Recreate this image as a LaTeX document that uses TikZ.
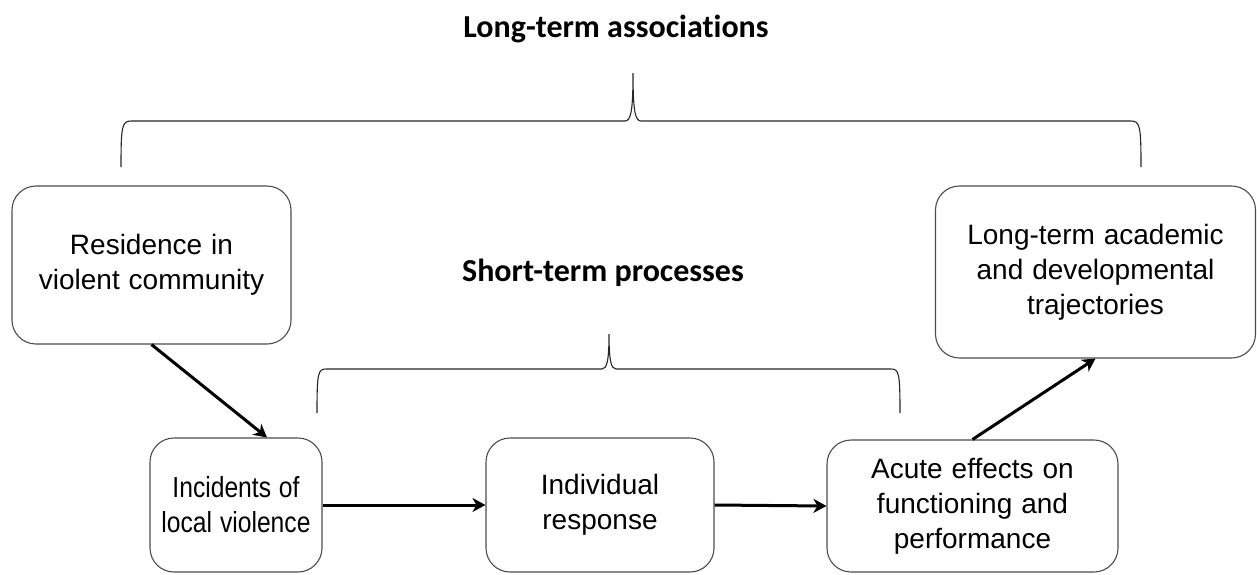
\documentclass[tikz,border=0pt]{standalone}
\usepackage{fontspec}
\setmainfont{Liberation Sans}[WordSpace=1.15]
\newfontfamily\narrowfont{Liberation Sans}[FakeStretch=0.85,WordSpace=1.15]
\newfontfamily\titlefont{Carlito}[Ligatures=NoCommon]
\usetikzlibrary{arrows.meta}
\tikzset{
  box/.style={draw=black!70, line width=1.1pt, rounded corners=24pt, align=center,
    inner sep=0pt, font=\fontsize{28}{35}\selectfont},
  flow/.style={line width=3pt, -{Stealth[length=13pt,width=14pt,inset=4pt]}},
  brace/.style={line width=1.1pt, black!85},
  title/.style={font=\titlefont\bfseries\fontsize{32}{36}\selectfont}
}
\begin{document}
\begin{tikzpicture}[x=1pt,y=-1pt]
\useasboundingbox (0,0) rectangle (1257,574);
\node[title] (lt) at (616,29) {Long-term associations};
\node[title] (st) at (603,273) {Short-term processes};

\node[box, minimum width=279pt, minimum height=158pt] (res) at (151.5,265) {Residence in\\violent community};
\node[box, minimum width=172pt, minimum height=134pt, font=\narrowfont\fontsize{29}{35}\selectfont] (inc) at (236,505) {Incidents of\\local violence};
\node[box, minimum width=228pt, minimum height=134pt] (ind) at (600,505) {Individual\\response};
\node[box, minimum width=291pt, minimum height=132pt] (acu) at (972.5,506) {Acute effects on\\functioning and\\performance};
\node[box, minimum width=320pt, minimum height=172pt] (lng) at (1095.5,272) {Long-term academic\\and developmental\\trajectories};

\draw[flow] (res.south) -- ([xshift=31pt]inc.north);
\draw[flow] (inc.east) -- (ind.west);
\draw[flow] (ind.east) -- (acu.west);
\draw[flow] (acu.north) -- (lng.south);

% long-term brace
\draw[brace] (121,167) .. controls (121,126) and (122,121) .. (131,121) -- (625,121)
  .. controls (631,121) and (633,110) .. (633,73)
  .. controls (633,110) and (635,121) .. (641,121) -- (1131,121)
  .. controls (1140,121) and (1141,126) .. (1141,167);
% short-term brace
\draw[brace] (317,413) .. controls (317,373) and (318,369) .. (326,369) -- (602,369)
  .. controls (607,369) and (609,360) .. (609,334)
  .. controls (609,360) and (611,369) .. (616,369) -- (891,369)
  .. controls (899,369) and (900,373) .. (900,413);
\end{tikzpicture}
\end{document}
